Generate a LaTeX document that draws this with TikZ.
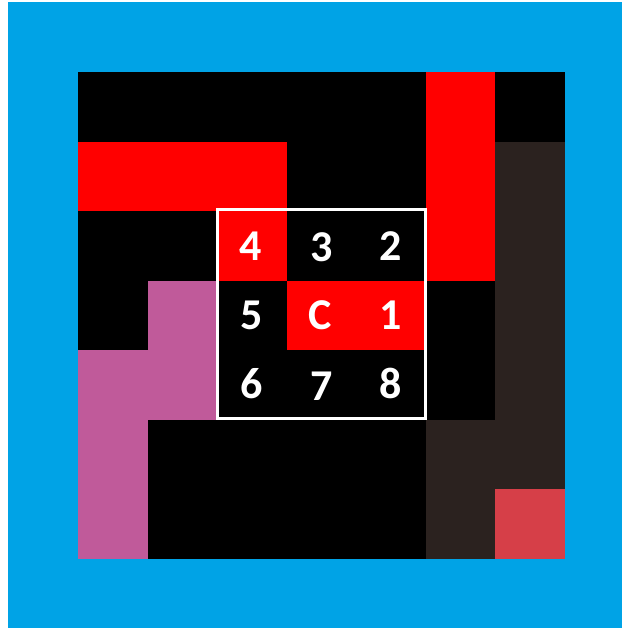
\documentclass[tikz,border=0pt]{standalone}
\usepackage{fontspec}
\setmainfont{Carlito}
\definecolor{bgblue}{HTML}{00A3E6}
\definecolor{cred}{HTML}{FF0000}
\definecolor{cpink}{HTML}{C05A9A}
\definecolor{cbrown}{HTML}{2B221F}
\definecolor{cdred}{HTML}{D63F48}
\tikzset{lbl/.style={text=white,font=\fontsize{44}{44}\selectfont\bfseries,inner sep=0pt,anchor=center}}
\begin{document}
\begin{tikzpicture}[x=1pt,y=-1pt]
\useasboundingbox (0,0) rectangle (622,628);
\fill[white] (0,0) rectangle (622,628);
\fill[bgblue] (8,2) rectangle (622,628);
\begin{scope}[shift={(78,72)},x=69.57pt,y=-69.57pt]
\fill[black] (0,0) rectangle (7,7);
\fill[cred] (0,1) rectangle (3,2);
\fill[cred] (5,0) rectangle (6,3);
\fill[cbrown] (6,1) rectangle (7,6);
\fill[cbrown] (5,5) rectangle (6,7);
\fill[cdred] (6,6) rectangle (7,7);
\fill[cpink] (1,3) rectangle (2,5);
\fill[cpink] (0,4) rectangle (1,7);
\fill[cred] (2,2) rectangle (3,3);
\fill[cred] (3,3) rectangle (5,4);
\draw[white,line width=3pt] (2,1.98) rectangle (5,4.98);
\node[lbl] (n4) at (2.48,2.5) {4};
\node[lbl] (n3) at (3.5,2.52) {3};
\node[lbl] (n2) at (4.5,2.5) {2};
\node[lbl] (n5) at (2.5,3.5) {5};
\node[lbl] (nC) at (3.48,3.5) {C};
\node[lbl] (n1) at (4.5,3.5) {1};
\node[lbl] (n6) at (2.5,4.48) {6};
\node[lbl] (n7) at (3.5,4.52) {7};
\node[lbl] (n8) at (4.5,4.48) {8};
\end{scope}
\end{tikzpicture}
\end{document}
